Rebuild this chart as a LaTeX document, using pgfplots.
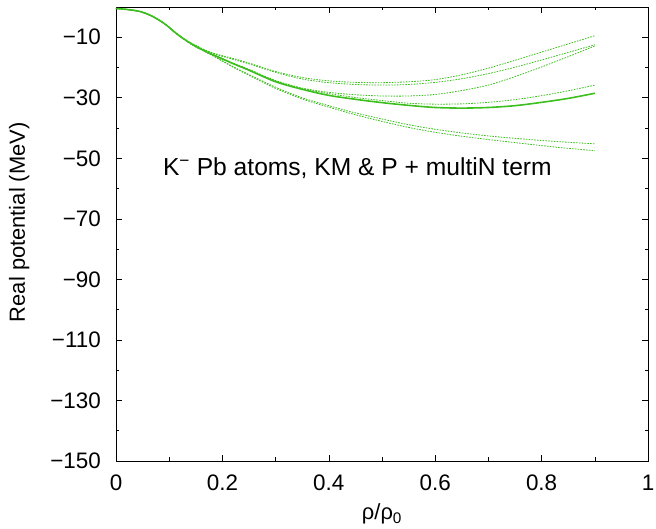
\documentclass[border=0pt]{standalone}
\usepackage{fontspec}
\setmainfont{Liberation Sans}
\usepackage{pgfplots}
\pgfplotsset{compat=1.18}
\usepackage{pgfplotstable}
\definecolor{lgreen}{RGB}{60,190,30}

\pgfplotstableread{
x      s      d1     d2     d3     d4     d5     d6
0      -0.5   -0.5   -0.5   -0.5   -0.5   -0.5   -0.5
0.02   -0.8   -0.8   -0.8   -0.8   -0.8   -0.8   -0.8
0.04   -1.3   -1.3   -1.3   -1.3   -1.3   -1.3   -1.3
0.056  -2.1   -2.1   -2.1   -2.1   -2.1   -2.1   -2.1
0.075  -3.7   -3.7   -3.7   -3.7   -3.7   -3.7   -3.7
0.094  -5.9   -5.9   -5.9   -5.9   -5.9   -5.9   -5.9
0.113  -8.7   -8.6   -8.6   -8.7   -8.7   -8.7   -8.7
0.132  -11.1  -11.0  -11.0  -11.1  -11.1  -11.2  -11.2
0.15   -13.0  -12.7  -12.8  -13.0  -13.0  -13.2  -13.2
0.17   -14.8  -14.4  -14.5  -14.7  -14.7  -15.0  -15.0
0.19   -16.4  -15.6  -15.8  -16.3  -16.3  -16.8  -16.9
0.22   -18.7  -17.0  -17.3  -18.5  -18.6  -19.7  -19.9
0.25   -20.9  -18.5  -18.8  -20.6  -20.8  -22.3  -22.6
0.30   -24.7  -21.3  -21.6  -24.3  -24.4  -26.5  -26.9
0.35   -27.2  -23.3  -23.8  -26.8  -26.9  -30.0  -30.4
0.40   -29.2  -24.4  -25.0  -28.2  -28.6  -32.6  -33.1
0.45   -30.5  -24.9  -25.6  -29.0  -29.9  -35.0  -35.6
0.50   -31.6  -25.0  -25.8  -29.4  -30.9  -37.0  -37.8
0.55   -32.5  -24.7  -25.6  -29.4  -31.8  -38.9  -39.8
0.60   -33.2  -24.0  -24.9  -28.9  -32.1  -40.4  -41.4
0.65   -33.4  -22.4  -23.7  -27.6  -32.0  -41.6  -42.7
0.70   -33.2  -20.2  -22.0  -25.8  -31.5  -42.6  -43.8
0.75   -32.6  -17.6  -19.9  -23.0  -30.6  -43.4  -44.8
0.80   -31.5  -14.9  -17.5  -19.8  -29.3  -44.1  -45.8
0.85   -30.2  -12.2  -15.0  -16.4  -27.7  -44.7  -46.7
0.90   -28.5  -9.5   -12.5  -12.9  -25.8  -45.2  -47.5
}\data

\begin{document}
\begin{tikzpicture}
\begin{axis}[name=ax, scale only axis, width=532bp, height=454bp,
  xmin=0, xmax=1, ymin=-150, ymax=0,
  xtick={0,0.2,0.4,0.6,0.8,1}, xticklabels={0,0.2,0.4,0.6,0.8,1},
  ytick={-150,-130,-110,-90,-70,-50,-30,-10},
  yticklabels={−150,−130,−110,−90,−70,−50,−30,−10},
  minor x tick num=1, minor y tick num=1,
  tick align=inside, major tick length=6bp, minor tick length=3.5bp,
  tick style={black, line width=0.6bp},
  axis line style={line width=0.8bp},
  ticklabel style={font=\fontsize{22.5}{26}\selectfont, inner sep=0pt},
  yticklabel style={xshift=-15bp},
  xticklabel style={yshift=-14bp},
  xlabel={ρ/ρ\textsubscript{0}}, ylabel={Real potential (MeV)},
  label style={font=\fontsize{22}{26}\selectfont},
  xlabel style={at={(axis description cs:0.5,-0.117)}, anchor=center},
  ylabel style={at={(axis description cs:-0.182,0.526)}, anchor=center},
]
\foreach \c in {d1,d2,d3,d4,d5,d6}{
  \addplot[lgreen, line width=0.8bp, dash pattern=on 1.6bp off 1.2bp, smooth] table[x=x,y=\c]{\data};
}
\addplot[lgreen, line width=1.6bp, smooth] table[x=x,y=s]{\data};
\node[anchor=west, font=\fontsize{24.7}{28}\selectfont, inner sep=0pt] at (axis cs:0.088,-53.1) {K\textsuperscript{−} Pb atoms, KM \& P + multiN term};
\end{axis}
\path ([shift={(-116bp,-68bp)}]ax.south west) rectangle ([shift={(8bp,7bp)}]ax.north east);
\end{tikzpicture}
\end{document}
